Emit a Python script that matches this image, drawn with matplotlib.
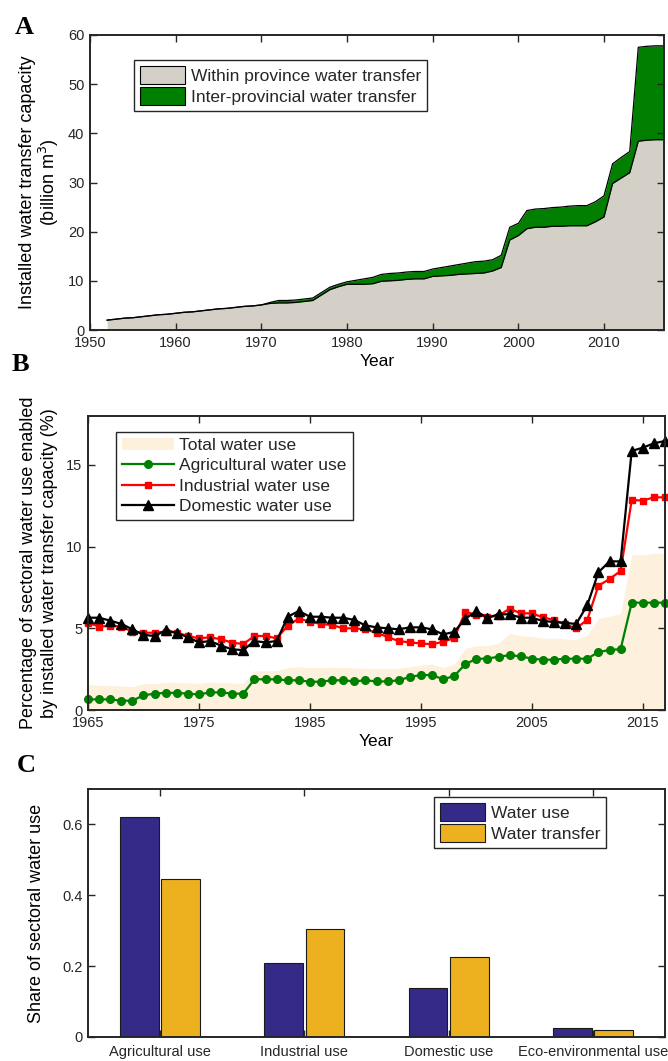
import matplotlib
matplotlib.use("Agg")
import matplotlib.pyplot as plt
from matplotlib.patches import Patch
import numpy as np

plt.rcParams['font.family'] = ['Liberation Sans', 'DejaVu Sans']
plt.rcParams['axes.edgecolor'] = '#262626'
plt.rcParams['xtick.color'] = '#262626'
plt.rcParams['ytick.color'] = '#262626'
plt.rcParams['text.color'] = '#262626'

# ---- Panel A data: installed water transfer capacity (billion m3)
years_a = list(range(1952, 2018))
within_province = [
    2.0, 2.2, 2.4, 2.5, 2.7, 2.9, 3.1, 3.2, 3.4, 3.6,      # 1952-1961
    3.7, 3.9, 4.1, 4.3, 4.4, 4.6, 4.8, 4.9, 5.1, 5.4,      # 1962-1971
    5.5, 5.5, 5.6, 5.8, 6.0, 7.1, 8.2, 8.8, 9.3, 9.3,      # 1972-1981
    9.3, 9.4, 9.9, 10.0, 10.1, 10.3, 10.4, 10.4, 10.9, 11.0,  # 1982-1991
    11.1, 11.3, 11.4, 11.5, 11.6, 12.0, 12.7, 18.3, 19.2, 20.6,  # 1992-2001
    20.9, 20.9, 21.1, 21.1, 21.2, 21.2, 21.2, 22.0, 23.0, 29.8,  # 2002-2011
    30.9, 32.0, 38.4, 38.6, 38.7, 38.7,                         # 2012-2017
]
inter_provincial = [
    0.0, 0.0, 0.0, 0.0, 0.0, 0.0, 0.0, 0.0, 0.0, 0.0,
    0.0, 0.0, 0.0, 0.0, 0.0, 0.0, 0.0, 0.0, 0.0, 0.2,
    0.5, 0.5, 0.5, 0.5, 0.5, 0.5, 0.5, 0.5, 0.5, 0.8,
    1.1, 1.3, 1.4, 1.5, 1.5, 1.5, 1.5, 1.5, 1.5, 1.7,
    1.9, 2.0, 2.2, 2.4, 2.4, 2.3, 2.5, 2.6, 2.5, 3.7,
    3.7, 3.8, 3.8, 3.9, 4.0, 4.1, 4.1, 4.1, 4.3, 4.0,
    4.2, 4.3, 19.1, 19.1, 19.1, 19.1,
]

# ---- Panel B data: percentage of sectoral water use enabled (%)
years_b = list(range(1965, 2018))
total_use = [
    1.53, 1.52, 1.50, 1.47, 1.43, 1.60, 1.62, 1.70, 1.68, 1.66,   # 1965-1974
    1.63, 1.70, 1.68, 1.65, 1.63, 2.40, 2.40, 2.40, 2.60, 2.65,   # 1975-1984
    2.60, 2.60, 2.62, 2.60, 2.58, 2.55, 2.55, 2.55, 2.55, 2.65,   # 1985-1994
    2.75, 2.80, 2.60, 2.80, 3.78, 3.94, 3.94, 4.08, 4.70, 4.55,   # 1995-2004
    4.50, 4.40, 4.40, 4.35, 4.30, 4.60, 5.60, 5.75, 5.90, 9.50,   # 2005-2014
    9.50, 9.60, 9.60,                                             # 2015-2017
]
agricultural = [
    0.65, 0.65, 0.65, 0.57, 0.57, 0.90, 1.00, 1.05, 1.05, 1.00,
    0.95, 1.08, 1.08, 1.00, 1.00, 1.88, 1.88, 1.88, 1.82, 1.82,
    1.73, 1.73, 1.82, 1.82, 1.75, 1.82, 1.75, 1.75, 1.82, 2.02,
    2.14, 2.14, 1.88, 2.08, 2.80, 3.14, 3.14, 3.27, 3.35, 3.29,
    3.14, 3.08, 3.08, 3.14, 3.14, 3.14, 3.55, 3.67, 3.73, 6.57,
    6.57, 6.57, 6.57,
]
industrial = [
    5.35, 5.10, 5.16, 5.10, 4.80, 4.73, 4.73, 4.80, 4.73, 4.53,
    4.39, 4.45, 4.33, 4.12, 4.04, 4.53, 4.53, 4.39, 5.16, 5.60,
    5.40, 5.27, 5.20, 5.00, 5.00, 4.94, 4.73, 4.47, 4.22, 4.14,
    4.08, 4.02, 4.18, 4.40, 6.00, 5.84, 5.69, 5.78, 6.20, 5.92,
    5.92, 5.67, 5.51, 5.24, 5.00, 5.53, 7.61, 8.02, 8.51, 12.86,
    12.82, 13.02, 13.02,
]
domestic = [
    5.65, 5.65, 5.47, 5.27, 4.94, 4.60, 4.53, 4.88, 4.73, 4.45,
    4.14, 4.22, 3.94, 3.71, 3.67, 4.22, 4.14, 4.22, 5.71, 6.06,
    5.71, 5.71, 5.65, 5.65, 5.51, 5.18, 5.06, 5.00, 4.94, 5.06,
    5.06, 4.94, 4.63, 4.78, 5.59, 6.04, 5.65, 5.86, 5.86, 5.65,
    5.65, 5.45, 5.39, 5.33, 5.27, 6.43, 8.43, 9.10, 9.10, 15.86,
    16.06, 16.33, 16.47,
]

# ---- Panel C data: share of sectoral water use
sectors = ['Agricultural use', 'Industrial use', 'Domestic use', 'Eco-environmental use']
share_use = [0.62, 0.21, 0.138, 0.025]
share_transfer = [0.445, 0.305, 0.227, 0.02]

fig = plt.figure(figsize=(6.68, 10.61), dpi=100)
W, H = 668.0, 1061.0


def axes_px(left, top, right, bottom):
    return fig.add_axes([left / W, 1 - bottom / H, (right - left) / W, (bottom - top) / H])


def matlab_style(ax):
    ax.tick_params(direction='in', top=True, right=True, length=5, width=1.0,
                   labelsize=10.5, pad=4)
    for sp in ax.spines.values():
        sp.set_linewidth(1.4)


leg_kw = dict(fontsize=12.5, fancybox=False, edgecolor='#262626', framealpha=1,
              handletextpad=0.3, borderpad=0.35, borderaxespad=0)

# ---- Panel A
axA = axes_px(90, 35, 664, 330)
axA.fill_between(years_a, 0, within_province, color='#d4d0c8', lw=0)
top_a = np.array(within_province) + np.array(inter_provincial)
axA.fill_between(years_a, within_province, top_a, color='#007f00', lw=0)
axA.plot(years_a, within_province, color='k', lw=0.9)
axA.plot(years_a, top_a, color='k', lw=0.9)
axA.set_xlim(1950, 2017)
axA.set_ylim(0, 60)
axA.set_xticks(range(1950, 2011, 10))
axA.set_yticks(range(0, 61, 10))
axA.set_xlabel('Year', fontsize=12.5, labelpad=3)
axA.set_ylabel('Installed water transfer capacity\n(billion m$^3$)', fontsize=13,
               linespacing=1.05, labelpad=5)
matlab_style(axA)
hA = [Patch(facecolor='#d4d0c8', edgecolor='k', lw=0.8),
      Patch(facecolor='#007f00', edgecolor='k', lw=0.8)]
axA.legend(hA, ['Within province water transfer', 'Inter-provincial water transfer'],
           loc='upper left', bbox_to_anchor=(0.077, 0.915),
           handlelength=2.6, handleheight=1.2, labelspacing=0.2, **leg_kw)
fig.text(24 / W, 1 - 27 / H, 'A', fontsize=19, fontweight='bold',
         family='Liberation Serif', va='center', ha='center', color='k')

# ---- Panel B
axB = axes_px(88, 416, 665, 710)
axB.fill_between(years_b, 0, total_use, color='#fdf0dc', lw=0, label='Total water use')
axB.plot(years_b, agricultural, color='#008000', lw=1.6, marker='o', ms=5.5,
         clip_on=False, label='Agricultural water use')
axB.plot(years_b, industrial, color='#ff0000', lw=1.6, marker='s', ms=5,
         clip_on=False, label='Industrial water use')
axB.plot(years_b, domestic, color='k', lw=1.6, marker='^', ms=6.5,
         clip_on=False, label='Domestic water use')
axB.set_xlim(1965, 2017)
axB.set_ylim(0, 18)
axB.set_xticks(range(1965, 2016, 10))
axB.set_yticks([0, 5, 10, 15])
axB.set_xlabel('Year', fontsize=12.5, labelpad=3)
axB.set_ylabel('Percentage of sectoral water use enabled\nby installed water transfer capacity (%)',
               fontsize=13, linespacing=1.3, labelpad=6)
matlab_style(axB)
axB.legend(loc='upper left', bbox_to_anchor=(0.048, 0.946), handlelength=3.0,
           labelspacing=0.3, **leg_kw)
fig.text(20 / W, 1 - 365 / H, 'B', fontsize=19, fontweight='bold',
         family='Liberation Serif', va='center', ha='center', color='k')

# ---- Panel C
axC = axes_px(88, 789, 665, 1037)
x = np.arange(1, len(sectors) + 1)
axC.bar(x - 0.143, share_use, width=0.27, color='#352a87', edgecolor='#1a1a1a',
        lw=0.8, label='Water use')
axC.bar(x + 0.143, share_transfer, width=0.27, color='#edb120', edgecolor='#1a1a1a',
        lw=0.8, label='Water transfer')
axC.set_xlim(0.5, 4.5)
axC.set_ylim(0, 0.7)
axC.set_xticks(x)
axC.set_xticklabels(sectors)
axC.set_yticks([0, 0.2, 0.4, 0.6])
axC.set_yticklabels(['0', '0.2', '0.4', '0.6'])
axC.set_ylabel('Share of sectoral water use', fontsize=13, labelpad=12)
matlab_style(axC)
axC.tick_params(axis='x', pad=6)
axC.legend(loc='upper right', bbox_to_anchor=(0.898, 0.968),
           handlelength=2.6, handleheight=1.2, labelspacing=0.2, **leg_kw)
fig.text(26 / W, 1 - 766 / H, 'C', fontsize=19, fontweight='bold',
         family='Liberation Serif', va='center', ha='center', color='k')

fig.savefig('out.png', dpi=100)
